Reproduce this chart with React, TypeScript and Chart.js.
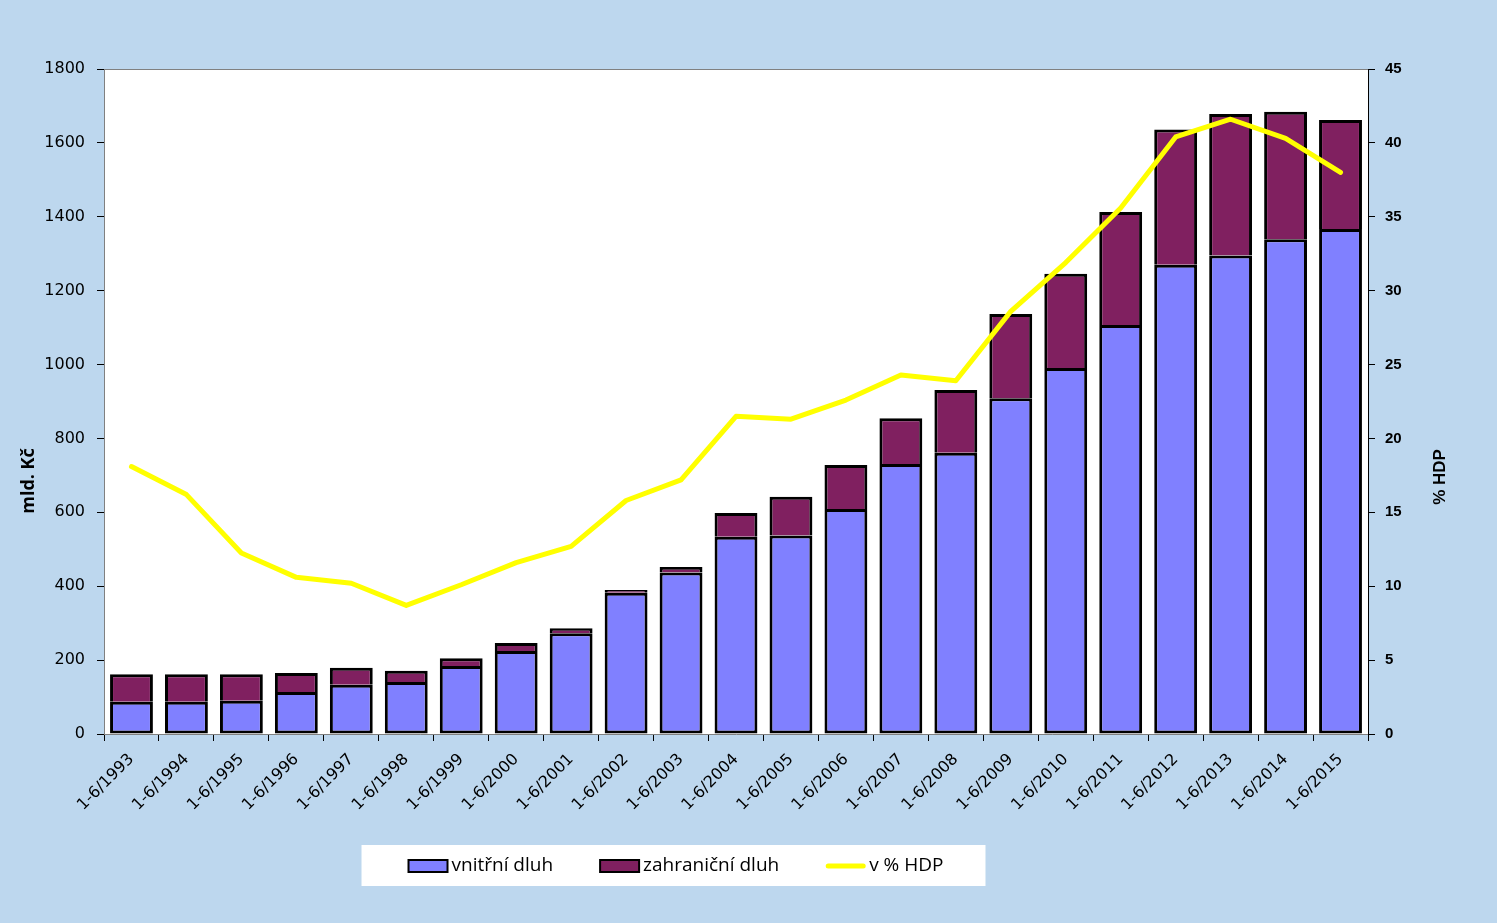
import React, { useEffect, useRef } from "react";
import { Chart, registerables } from "chart.js";

Chart.register(...registerables);

const categories = [
  "1-6/1993", "1-6/1994", "1-6/1995", "1-6/1996", "1-6/1997", "1-6/1998",
  "1-6/1999", "1-6/2000", "1-6/2001", "1-6/2002", "1-6/2003", "1-6/2004",
  "1-6/2005", "1-6/2006", "1-6/2007", "1-6/2008", "1-6/2009", "1-6/2010",
  "1-6/2011", "1-6/2012", "1-6/2013", "1-6/2014", "1-6/2015",
];

// mld. Kč
const domesticDebt = [
  87, 87, 90, 114, 133, 141, 184, 225, 273, 382, 437, 534,
  537, 609, 731, 761, 909, 991, 1107, 1270, 1295, 1339, 1367,
];
const foreignDebt = [
  75, 75, 72, 51, 46, 30, 21, 21, 13, 8, 15, 64,
  105, 119, 124, 170, 228, 255, 306, 366, 383, 345, 295,
];
// % HDP
const debtToGdp = [
  18.1, 16.2, 12.25, 10.6, 10.2, 8.7, 10.1, 11.6, 12.7, 15.8, 17.2, 21.5,
  21.3, 22.6, 24.3, 23.9, 28.6, 31.9, 35.6, 40.4, 41.6, 40.3, 38.0,
];

const leftTicks = { min: 0, max: 1800, step: 200 };
const rightTicks = { min: 0, max: 45, step: 5 };

const seriesLabels = ["vnitřní dluh", "zahraniční dluh", "v % HDP"];
const leftTitle = "mld. Kč";
const rightTitle = "% HDP";

const BG = "#BDD7EE";
const BLUE = "#8080FF";
const PLUM = "#802060";
const YELLOW = "#FFFF00";

const decorPlugin = {
  id: "decor",
  beforeDraw(chart: any) {
    const { ctx, chartArea: a, width, height } = chart;
    ctx.save();
    ctx.fillStyle = BG;
    ctx.fillRect(0, 0, width, height);
    ctx.fillStyle = "#FFFFFF";
    ctx.fillRect(a.left, a.top, a.right - a.left, a.bottom - a.top);
    ctx.restore();
  },
  afterDraw(chart: any) {
    const { ctx, chartArea: a } = chart;
    ctx.save();
    // top border of plot area
    ctx.strokeStyle = "#808080";
    ctx.lineWidth = 1;
    ctx.beginPath();
    ctx.moveTo(a.left, a.top + 0.5);
    ctx.lineTo(a.right, a.top + 0.5);
    ctx.stroke();

    // axis titles
    ctx.fillStyle = "#000";
    ctx.textAlign = "center";
    ctx.textBaseline = "middle";
    ctx.save();
    ctx.translate(28.5, 481);
    ctx.rotate(-Math.PI / 2);
    ctx.font = 'bold 18px "Open Sans"';
    ctx.fillText(leftTitle, 0, 0);
    ctx.restore();
    ctx.save();
    ctx.translate(1440, 477);
    ctx.rotate(-Math.PI / 2);
    ctx.font = 'bold 17px "Liberation Sans"';
    ctx.fillText(rightTitle, 0, 0);
    ctx.restore();

    // legend
    const ds = chart.data.datasets;
    ctx.font = '19px "Open Sans"';
    const swatchW = 39;
    const textGap = 4;
    const itemGap = 47;
    const widths = ds.map((d: any) => swatchW + textGap + ctx.measureText(d.label).width);
    const total = widths.reduce((s: number, w: number) => s + w, 0) + itemGap * (ds.length - 1);
    const start = 676 - total / 2;
    const end = start + total;
    const cy = 866;
    ctx.fillStyle = "#FFFFFF";
    ctx.fillRect(start - 47, 845, end + 42 - (start - 47), 41);
    let x = start;
    ds.forEach((d: any, i: number) => {
      if (d.type === "line") {
        ctx.strokeStyle = d.borderColor;
        ctx.lineWidth = 5;
        ctx.lineCap = "round";
        ctx.beginPath();
        ctx.moveTo(x + 2, cy);
        ctx.lineTo(x + swatchW - 2, cy);
        ctx.stroke();
      } else {
        ctx.fillStyle = d.backgroundColor;
        ctx.fillRect(x, cy - 6, swatchW, 12);
        ctx.strokeStyle = "#000";
        ctx.lineWidth = 2;
        ctx.strokeRect(x, cy - 6, swatchW, 12);
      }
      ctx.fillStyle = "#000";
      ctx.textAlign = "left";
      ctx.textBaseline = "middle";
      ctx.fillText(d.label, x + swatchW + textGap, cy);
      x += widths[i] + itemGap;
    });
    ctx.restore();
  },
};

export default function App() {
  const canvasRef = useRef<HTMLCanvasElement | null>(null);

  useEffect(() => {
    const canvas = canvasRef.current;
    if (!canvas) return;
    const chart = new Chart(canvas, {
      data: {
        labels: categories,
        datasets: [
          {
            type: "bar",
            label: seriesLabels[0],
            data: domesticDebt,
            backgroundColor: BLUE,
            borderColor: "#000",
            borderWidth: 3,
            borderSkipped: false,
            inflateAmount: 0,
            yAxisID: "y",
            order: 1,
            barPercentage: 0.78,
            categoryPercentage: 1,
          },
          {
            type: "bar",
            label: seriesLabels[1],
            data: foreignDebt,
            backgroundColor: PLUM,
            borderColor: "#000",
            borderWidth: 3,
            borderSkipped: "start",
            inflateAmount: 0,
            yAxisID: "y",
            order: 1,
            barPercentage: 0.78,
            categoryPercentage: 1,
          },
          {
            type: "line",
            label: seriesLabels[2],
            data: debtToGdp,
            borderColor: YELLOW,
            backgroundColor: YELLOW,
            borderWidth: 5,
            borderCapStyle: "round",
            borderJoinStyle: "round",
            pointRadius: 0,
            tension: 0,
            yAxisID: "y1",
            order: 0,
          },
        ] as any,
      },
      options: {
        responsive: false,
        animation: false,
        layout: { padding: { top: 69, left: 0, right: 0, bottom: 0 } },
        plugins: {
          legend: { display: false },
          tooltip: { enabled: false },
          title: { display: false },
        },
        scales: {
          x: {
            stacked: true,
            grid: {
              display: true,
              drawOnChartArea: false,
              drawTicks: true,
              color: "#000",
              tickLength: 7,
              offset: true,
            },
            border: { display: true, color: "#808080", width: 1 },
            ticks: {
              autoSkip: false,
              maxRotation: 45,
              minRotation: 45,
              color: "#000",
              padding: 9,
              font: { family: '"DejaVu Sans"', size: 16 },
            },
            afterFit: (s: any) => {
              s.height = 189;
            },
          },
          y: {
            stacked: true,
            position: "left",
            min: leftTicks.min,
            max: leftTicks.max,
            grid: {
              display: true,
              drawOnChartArea: false,
              drawTicks: true,
              color: "#000",
              tickLength: 7,
            },
            border: { display: true, color: "#808080", width: 1 },
            ticks: {
              stepSize: leftTicks.step,
              color: "#000",
              padding: 12,
              font: { family: '"DejaVu Sans"', size: 16 },
              callback: (v: any) => String(v),
            },
            afterFit: (s: any) => {
              s.width = 104;
            },
          },
          y1: {
            position: "right",
            min: rightTicks.min,
            max: rightTicks.max,
            grid: {
              display: true,
              drawOnChartArea: false,
              drawTicks: true,
              color: "#000",
              tickLength: 7,
            },
            border: { display: true, color: "#000", width: 1 },
            ticks: {
              stepSize: rightTicks.step,
              color: "#000",
              padding: 10,
              font: { family: '"Liberation Sans"', size: 15, weight: "bold" },
              callback: (v: any) => String(v),
            },
            afterFit: (s: any) => {
              s.width = 129;
            },
          },
        },
      } as any,
      plugins: [decorPlugin],
    });
    return () => chart.destroy();
  }, []);

  return (
    <div
      style={{
        position: "fixed",
        left: 0,
        top: 0,
        width: 1497,
        height: 923,
        background: BG,
      }}
    >
      <canvas
        ref={canvasRef}
        width={1497}
        height={923}
        style={{ display: "block", width: 1497, height: 923 }}
      />
    </div>
  );
}
